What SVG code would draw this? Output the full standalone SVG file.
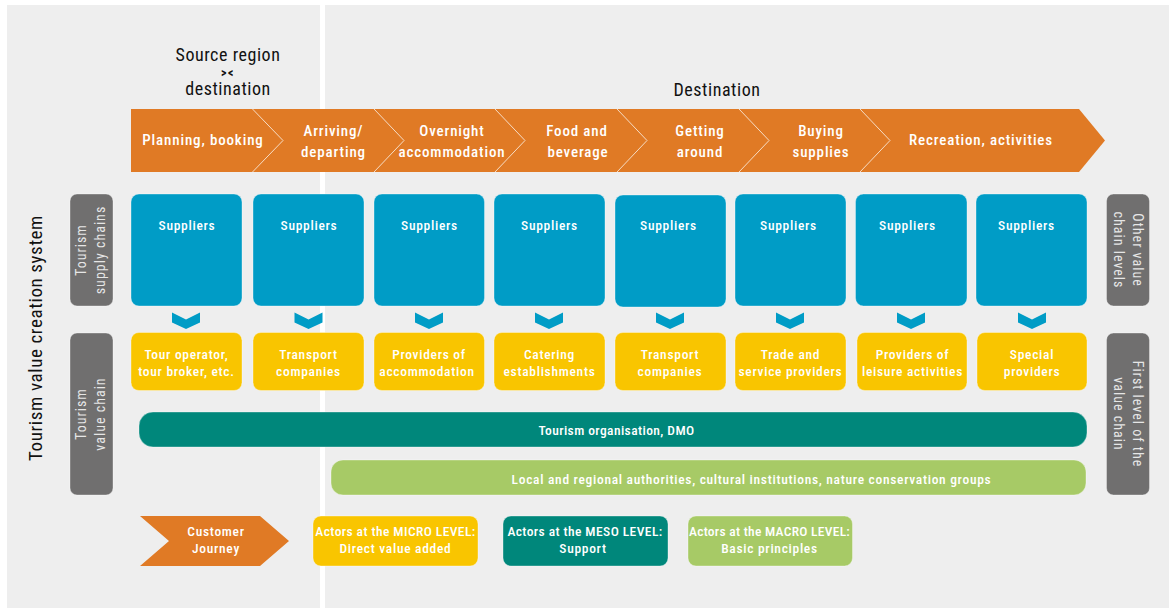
<svg xmlns="http://www.w3.org/2000/svg" width="1169" height="608" viewBox="0 0 1169 608">
<style>
text{font-family:"Liberation Sans Narrow","Roboto Condensed","DejaVu Sans Condensed","Liberation Sans",sans-serif;text-anchor:middle}
.w{fill:#fff;font-size:15px;letter-spacing:.85px;font-weight:500}
.s{fill:#fff;font-size:13.500px;letter-spacing:.7px;font-weight:500}
.m{letter-spacing:.42px}
.k{fill:#111;font-size:18px;letter-spacing:.55px}
.g{fill:#e6e6e6;font-size:14px;letter-spacing:1px}
.o{fill:#e07a25}
.b{fill:#009cc6;stroke:#fff;stroke-opacity:.35}
.y{fill:#f9c500;stroke:#fff;stroke-opacity:.35}
.t{fill:#00877b;stroke:#fff;stroke-opacity:.35}
.l{fill:#a7ca66;stroke:#fff;stroke-opacity:.35}
.d{fill:#706f6f;stroke:#fff;stroke-opacity:.35}
.c{fill:none;stroke:#f6dcc4;stroke-width:1}
</style>
<defs>
<path id="v" class="b" style="stroke:none" d="M-14 0L0 7L14 0V10L0 16.500L-14 10Z"/>
</defs>
<rect width="1169" height="608" fill="#fff"/>
<rect x="7" y="5" width="1162" height="603" fill="#eee"/>
<rect x="320" y="5" width="5" height="603" fill="#fff"/>

<g id="heading-source"><text class="k" x="228" y="61">Source region</text><text class="k" x="228" y="76.500" style="font-size:12px;letter-spacing:1.500px;font-weight:700">&gt;&lt;</text><text class="k" x="228" y="95">destination</text></g>
<g id="heading-destination"><text class="k" x="717" y="96">Destination</text></g>
<g id="system-label"><text class="k" transform="translate(42 338) rotate(-90)" style="font-size:19px;letter-spacing:.6px">Tourism value creation system</text></g>

<g id="journey">
<path class="o" d="M131 109H1079L1105 140.500L1079 172H131Z"/>
<path class="c" d="M252.500 109L283 140.500L252.500 172M374 109L404 140.500L374 172M495 109L525 140.500L495 172M617 109L647 140.500L617 172M739 109L769 140.500L739 172M860 109L890 140.500L860 172"/>
<text class="w" x="203" y="145">Planning, booking</text>
<text class="w" x="333.500" y="136">Arriving/</text><text class="w" x="333.500" y="157">departing</text>
<text class="w" x="452" y="136">Overnight</text><text class="w" x="452" y="157">accommodation</text>
<text class="w" x="577" y="136">Food and</text><text class="w" x="578" y="157">beverage</text>
<text class="w" x="700" y="136">Getting</text><text class="w" x="700" y="157">around</text>
<text class="w" x="821" y="136">Buying</text><text class="w" x="821" y="157">supplies</text>
<text class="w" x="981" y="145">Recreation, activities</text>
</g>

<g id="side-supply"><rect class="d" x="70" y="194" width="43" height="112" rx="7"/><text class="g" transform="translate(86 250) rotate(-90)">Tourism</text><text class="g" transform="translate(105 250) rotate(-90)">supply chains</text></g>
<g id="side-chain"><rect class="d" x="70" y="333" width="43" height="162" rx="7"/><text class="g" transform="translate(86 414) rotate(-90)">Tourism</text><text class="g" transform="translate(105 414) rotate(-90)">value chain</text></g>
<g id="side-other"><rect class="d" x="1106.500" y="194" width="43" height="112" rx="7"/><text class="g" transform="translate(1133 250) rotate(90)">Other value</text><text class="g" transform="translate(1114 250) rotate(90)">chain levels</text></g>
<g id="side-first"><rect class="d" x="1106.500" y="333" width="43" height="162" rx="7"/><text class="g" transform="translate(1133 414) rotate(90)">First level of the</text><text class="g" transform="translate(1114 414) rotate(90)">value chain</text></g>

<g id="sup1"><rect class="b" x="131" y="194" width="111" height="112" rx="8"/><text class="s" x="187" y="230">Suppliers</text></g>
<g id="sup2"><rect class="b" x="253" y="194" width="111" height="112" rx="8"/><text class="s" x="309" y="230">Suppliers</text></g>
<g id="sup3"><rect class="b" x="374" y="194" width="110.500" height="112" rx="8"/><text class="s" x="429.500" y="230">Suppliers</text></g>
<g id="sup4"><rect class="b" x="494" y="194" width="111" height="112" rx="8"/><text class="s" x="549.500" y="230">Suppliers</text></g>
<g id="sup5"><rect class="b" x="615" y="195" width="111" height="112" rx="8"/><text class="s" x="668.500" y="230">Suppliers</text></g>
<g id="sup6"><rect class="b" x="735" y="194" width="111" height="112" rx="8"/><text class="s" x="788.500" y="230">Suppliers</text></g>
<g id="sup7"><rect class="b" x="855.500" y="194" width="111.500" height="112" rx="8"/><text class="s" x="907.500" y="230">Suppliers</text></g>
<g id="sup8"><rect class="b" x="976" y="194" width="111" height="112" rx="8"/><text class="s" x="1026.500" y="230">Suppliers</text></g>

<g id="connectors">
<use href="#v" x="186" y="312.500"/><use href="#v" x="308.500" y="312.500"/><use href="#v" x="429" y="312.500"/><use href="#v" x="549" y="312.500"/><use href="#v" x="670" y="312.500"/><use href="#v" x="790" y="312.500"/><use href="#v" x="911" y="312.500"/><use href="#v" x="1032" y="312.500"/>
</g>

<g id="act1"><rect class="y" x="131" y="332.500" width="111" height="58" rx="8"/><text class="s" x="186.500" y="359">Tour operator,</text><text class="s" x="186.500" y="376">tour broker, etc.</text></g>
<g id="act2"><rect class="y" x="253" y="332.500" width="111" height="58" rx="8"/><text class="s" x="308.500" y="359">Transport</text><text class="s" x="308.500" y="376">companies</text></g>
<g id="act3"><rect class="y" x="374" y="332.500" width="110.500" height="58" rx="8"/><text class="s" x="429" y="359">Providers of</text><text class="s" x="427" y="376">accommodation</text></g>
<g id="act4"><rect class="y" x="494" y="332.500" width="111" height="58" rx="8"/><text class="s" x="549.500" y="359">Catering</text><text class="s" x="549.500" y="376">establishments</text></g>
<g id="act5"><rect class="y" x="615" y="332.500" width="111" height="58" rx="8"/><text class="s" x="670" y="359">Transport</text><text class="s" x="670" y="376">companies</text></g>
<g id="act6"><rect class="y" x="735" y="332.500" width="111" height="58" rx="8"/><text class="s" x="790.500" y="359">Trade and</text><text class="s" x="790.500" y="376">service providers</text></g>
<g id="act7"><rect class="y" x="857" y="332.500" width="110" height="58" rx="8"/><text class="s" x="912.500" y="359">Providers of</text><text class="s" x="912.500" y="376">leisure activities</text></g>
<g id="act8"><rect class="y" x="977" y="332.500" width="110" height="58" rx="8"/><text class="s" x="1032" y="359">Special</text><text class="s" x="1032" y="376">providers</text></g>

<g id="dmo"><rect class="t" x="139" y="412" width="948" height="35" rx="14"/><text class="s m" x="616.500" y="435">Tourism organisation, DMO</text></g>
<g id="authorities"><rect class="l" x="331" y="460" width="755" height="35" rx="12"/><text class="s" x="751.500" y="484">Local and regional authorities, cultural institutions, nature conservation groups</text></g>

<g id="legend-journey"><path class="o" d="M140 516H260L289 541L260 566H140L169 541Z"/><text class="s" x="216" y="536">Customer</text><text class="s" x="216" y="553">Journey</text></g>
<g id="legend-micro"><rect class="y" x="313" y="516" width="165" height="50" rx="8"/><text class="s m" x="395.500" y="536">Actors at the MICRO LEVEL:</text><text class="s" x="395.500" y="553">Direct value added</text></g>
<g id="legend-meso"><rect class="t" x="503" y="516" width="165" height="50" rx="8"/><text class="s m" x="585" y="536">Actors at the MESO LEVEL:</text><text class="s" x="583" y="553">Support</text></g>
<g id="legend-macro"><rect class="l" x="688" y="516" width="164.500" height="50" rx="8"/><text class="s m" x="769.500" y="536" style="letter-spacing:.28px">Actors at the MACRO LEVEL:</text><text class="s" x="769.500" y="553">Basic principles</text></g>
</svg>
